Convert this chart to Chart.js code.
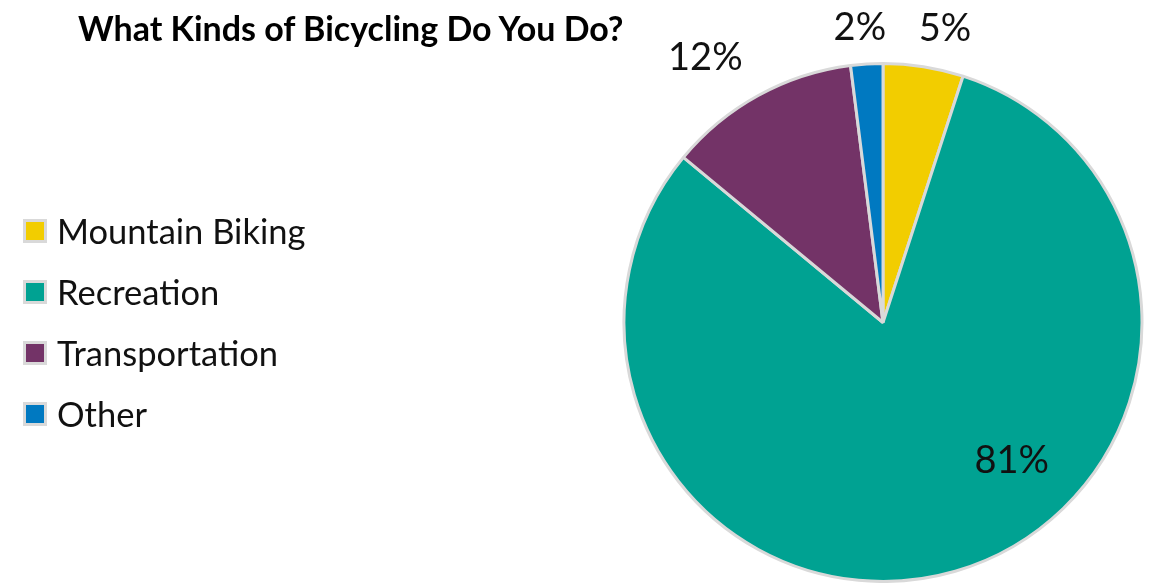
<!DOCTYPE html>
<html>
<head>
<meta charset="utf-8">
<script src="https://cdn.jsdelivr.net/npm/chart.js@4/dist/chart.umd.min.js"></script>
<style>
  body { margin: 0; background: #fff; font-family: Lato, "Open Sans", sans-serif; }
  .wrap { position: relative; width: 1150px; height: 583px; overflow: hidden; }
  .wrap canvas { position: absolute; left: 0; top: 0; }
  .title { position: absolute; left: 78px; top: 8px; font-size: 34px; line-height: 40px; font-weight: bold; color: #000; white-space: nowrap; }
  .legend { position: absolute; left: 23px; top: 200px; margin: 0; padding: 0; list-style: none; }
  .legend li { display: flex; align-items: center; height: 61px; font-size: 34.5px; color: #111; }
  .legend .box { width: 18px; height: 18px; border: 3px solid #d9d9d9; margin-right: 10px; box-sizing: content-box; }
</style>
</head>
<body>
<div class="wrap">
  <canvas id="pieChart" width="1150" height="583"></canvas>
  <div class="title">What Kinds of Bicycling Do You Do?</div>
  <ul class="legend" id="legend"></ul>
</div>
<script>
const categories = ['Mountain Biking', 'Recreation', 'Transportation', 'Other'];
const shares = [5, 81, 12, 2];
const percentLabels = ['5%', '81%', '12%', '2%'];
const sliceColors = ['#f2cd00', '#00a292', '#733367', '#0079c1'];

// where Excel put each label: radius factor and angle nudge (deg) from slice middle
const labelPlacement = [
  { rf: 1.16, da: 2.9 },
  { rf: 0.73, da: -26.7 },
  { rf: 1.23, da: -5.1 },
  { rf: 1.14, da: -0.9 }
];

// legend
document.getElementById('legend').innerHTML = categories.map((c, i) => `
  <li><span class="box" style="background:${sliceColors[i]}"></span>${c}</li>
`).join('');

const pctLabelPlugin = {
  id: 'pctLabels',
  afterDatasetsDraw(chart) {
    const ctx = chart.ctx;
    const meta = chart.getDatasetMeta(0);
    ctx.save();
    ctx.font = '38px Lato, "Open Sans", sans-serif';
    ctx.fillStyle = '#111';
    ctx.textAlign = 'center';
    ctx.textBaseline = 'middle';
    meta.data.forEach((arc, i) => {
      const p = arc.getProps(['x', 'y', 'startAngle', 'endAngle', 'outerRadius'], true);
      const place = labelPlacement[i];
      const mid = (p.startAngle + p.endAngle) / 2 + place.da * Math.PI / 180;
      const r = p.outerRadius * place.rf;
      ctx.fillText(percentLabels[i], p.x + Math.cos(mid) * r, p.y + Math.sin(mid) * r);
    });
    ctx.restore();
  }
};

const ctx = document.getElementById('pieChart').getContext('2d');
new Chart(ctx, {
  type: 'pie',
  data: {
    labels: categories,
    datasets: [{
      data: shares,
      backgroundColor: sliceColors,
      borderColor: '#d9d9d9',
      borderWidth: 3,
      hoverOffset: 0
    }]
  },
  options: {
    responsive: false,
    animation: false,
    layout: { padding: { left: 622, right: 6, top: 62, bottom: 0 } },
    plugins: {
      legend: { display: false },
      tooltip: { enabled: false }
    }
  },
  plugins: [pctLabelPlugin]
});
</script>
</body>
</html>
